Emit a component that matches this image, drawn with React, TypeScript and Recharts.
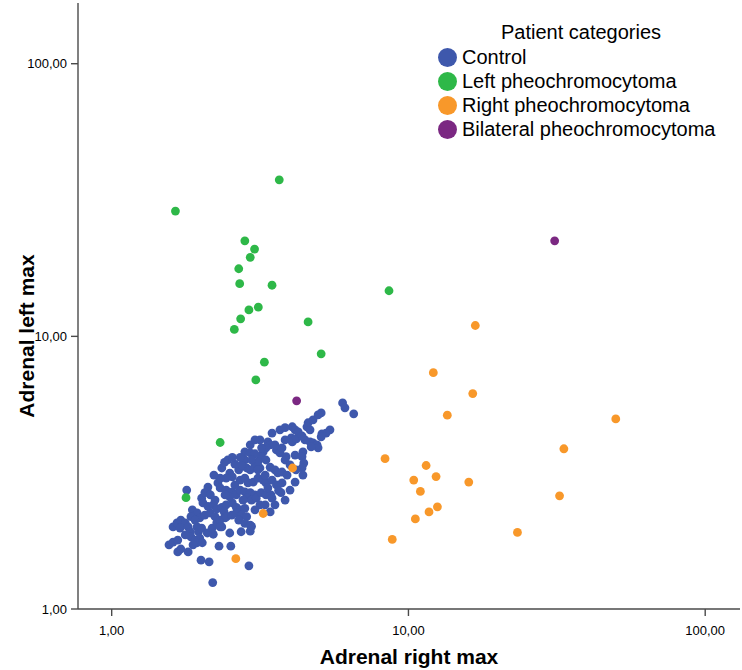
import { ScatterChart, Scatter, XAxis, YAxis, Label } from "recharts";

const categories = ["Control", "Left pheochromocytoma", "Right pheochromocytoma", "Bilateral pheochromocytoma"];
const colors = ["#3E58AC", "#2EB848", "#F8982A", "#7B2882"];
const xTicks = [1, 10, 100];
const yTicks = [1, 10, 100];

// [adrenal right max, adrenal left max]
const control: [number, number][] = [
  [2.19, 1.25], [2.9, 1.44], [2.13, 1.49], [2.0, 1.51], [2.3, 1.7], [2.52, 1.7], [1.56, 1.72], [1.61, 1.76],
  [1.67, 1.62], [1.81, 1.62], [1.71, 1.66], [2.73, 1.92], [2.93, 1.93], [2.96, 2.01], [3.42, 2.27], [2.2, 1.88],
  [1.79, 2.73], [1.61, 2.0], [1.66, 2.07], [1.71, 2.12], [1.77, 2.07], [1.7, 1.98], [1.81, 2.0], [1.84, 1.92],
  [1.94, 2.0], [1.96, 1.92], [2.01, 1.98], [2.1, 1.9], [2.18, 1.98], [2.26, 2.07], [2.35, 2.0], [2.41, 2.16],
  [1.85, 1.84], [1.91, 1.79], [1.98, 1.82], [1.94, 1.75], [2.02, 1.75], [1.88, 1.72],
  [1.87, 2.31], [1.94, 2.25], [1.85, 2.18], [1.98, 2.16], [2.06, 2.21], [2.15, 2.25], [2.23, 2.18], [2.32, 2.12], [2.41, 2.21],
  [2.01, 2.55], [2.03, 2.45], [2.11, 2.38], [2.2, 2.41], [2.26, 2.33], [2.35, 2.36], [2.43, 2.41],
  [2.55, 2.45], [2.63, 2.36], [2.71, 2.31], [2.81, 2.34], [2.63, 2.25], [2.74, 2.21], [2.85, 2.18],
  [2.11, 2.8], [2.1, 2.69], [2.06, 2.67],
  [2.28, 2.9], [2.32, 2.78], [2.43, 2.73], [2.55, 2.69], [2.63, 2.62], [2.5, 2.58], [2.41, 2.62],
  [2.71, 2.73], [2.81, 2.69], [2.93, 2.67], [3.04, 2.62], [2.85, 2.55], [2.77, 2.51], [2.96, 2.51], [3.07, 2.55], [3.19, 2.67], [3.31, 2.62],
  [3.44, 2.62], [3.47, 2.55], [3.72, 2.67],
  [2.5, 3.15], [2.55, 3.05], [2.43, 3.02], [2.32, 3.02],
  [2.71, 2.97], [2.81, 3.02], [2.88, 2.9], [3.0, 2.92], [3.11, 3.02], [3.24, 2.97], [3.31, 2.9],
  [3.47, 2.97], [3.59, 2.85], [3.75, 2.9], [3.65, 2.72],
  [3.04, 3.38], [3.16, 3.29], [3.42, 3.31], [3.55, 3.24], [3.63, 3.16], [3.75, 3.18], [3.9, 3.1],
  [2.81, 3.52], [2.85, 3.29], [2.93, 3.24],
  [3.24, 3.77], [3.19, 3.62], [3.31, 3.52], [3.11, 3.47],
  [2.81, 3.77], [2.93, 3.74], [3.04, 3.71],
  [3.59, 3.83], [3.69, 3.74], [3.75, 3.9], [3.87, 3.62], [3.84, 3.52],
  [4.41, 3.77], [4.38, 3.62], [4.44, 3.43], [4.38, 3.29], [4.41, 3.1],
  [4.66, 4.1], [4.77, 4.07], [4.92, 4.0], [4.96, 3.9], [4.7, 3.93],
  [3.36, 4.1], [3.42, 4.0], [3.31, 3.9],
  [4.03, 4.24], [4.06, 4.1], [4.19, 4.21],
  [5.44, 4.54], [5.28, 4.42], [5.11, 4.39], [5.08, 4.28],
  [4.06, 4.66], [4.15, 4.54], [4.25, 4.46],
  [3.47, 4.42],
  [4.77, 4.94], [4.59, 4.82], [4.55, 4.66],
  [5.08, 5.24], [4.96, 5.15],
  [6.0, 5.7], [6.11, 5.47], [6.54, 5.2],
  [4.48, 4.17], [4.38, 4.31], [3.16, 4.17],
  [2.39, 2.28], [2.44, 2.18], [2.54, 2.21], [2.68, 2.12], [2.81, 2.06], [2.93, 2.03], [2.5, 1.9], [2.32, 2.0],
  [2.6, 2.85], [2.68, 3.24], [2.74, 3.38], [2.96, 3.52], [3.11, 3.24], [3.29, 3.1], [3.36, 2.78], [3.16, 2.41],
  [3.29, 2.41], [3.04, 2.31], [3.55, 2.41], [3.84, 2.51], [3.99, 2.73], [4.15, 2.92], [3.99, 3.38], [4.18, 3.24],
  [4.15, 3.67], [4.66, 4.54], [3.84, 4.17], [3.69, 4.54], [2.46, 3.52], [2.35, 3.29], [2.21, 3.1], [2.15, 2.62],
  [2.23, 2.51], [1.91, 2.12], [1.77, 1.87], [1.67, 1.79],
  [2.93, 4.0], [3.04, 4.17], [3.55, 4.0], [3.84, 4.63], [2.71, 3.6], [2.6, 3.4], [3.2, 3.9], [2.4, 3.45], [2.55, 3.6],
];

const leftPheo: [number, number][] = [
  [3.67, 37.5], [1.64, 28.8], [2.81, 22.4], [3.03, 20.9], [2.93, 19.5], [2.68, 17.7], [2.7, 15.6], [3.47, 15.4],
  [3.12, 12.8], [2.9, 12.5], [2.72, 11.6], [2.59, 10.6], [4.59, 11.3], [5.08, 8.63], [3.27, 8.04], [3.06, 6.92],
  [8.6, 14.7], [2.32, 4.08], [1.78, 2.56],
];

const rightPheo: [number, number][] = [
  [16.8, 10.96], [12.13, 7.36], [16.47, 6.17], [13.52, 5.14], [49.96, 4.98], [33.4, 3.87], [8.34, 3.56],
  [11.47, 3.36], [10.42, 2.97], [12.39, 3.06], [15.97, 2.92], [10.97, 2.7], [32.3, 2.6], [12.52, 2.37],
  [11.73, 2.27], [10.55, 2.14], [23.3, 1.91], [8.82, 1.8], [4.07, 3.29], [3.24, 2.24], [2.62, 1.53],
];

const bilateral: [number, number][] = [
  [4.2, 5.8], [31.1, 22.4],
];

const groups = [control, leftPheo, rightPheo, bilateral];

const FONT = "Arial, 'Liberation Sans', sans-serif";
const FRAME = "#4a4a4a";

const fmt = (v: number) => v.toFixed(2).replace(".", ",");

const makeDot = (color: string) => (p: any) => <circle cx={p.cx} cy={p.cy} r={4.4} fill={color} />;

const YTitle = ({ viewBox }: any) => {
  const cx = viewBox.x + 26;
  const cy = viewBox.y + viewBox.height / 2 + 30;
  return (
    <text x={cx} y={cy} transform={`rotate(-90 ${cx} ${cy})`} textAnchor="middle" dominantBaseline="central"
      fontFamily={FONT} fontWeight="bold" fontSize={21} fill="#000">
      Adrenal left max
    </text>
  );
};

const XTitle = ({ viewBox }: any) => (
  <text x={viewBox.x + viewBox.width / 2} y={viewBox.y + 47} textAnchor="middle" dominantBaseline="central"
    fontFamily={FONT} fontWeight="bold" fontSize={21} fill="#000">
    Adrenal right max
  </text>
);

function ChartLegend() {
  return (
    <div style={{ position: "absolute", left: 437, top: 20, width: 288, fontFamily: FONT, fontSize: 20, color: "#000" }}>
      <div style={{ textAlign: "center", lineHeight: "24px", marginBottom: 1 }}>Patient categories</div>
      {categories.map((c, i) => (
        <div key={c} style={{ display: "flex", alignItems: "center", height: 24 }}>
          <span style={{ display: "inline-block", width: 19, height: 19, borderRadius: 10, background: colors[i], marginLeft: 1, marginRight: 5 }} />
          <span style={{ whiteSpace: "nowrap" }}>{c}</span>
        </div>
      ))}
    </div>
  );
}

export default function App() {
  return (
    <div style={{ position: "absolute", left: 0, top: 0, width: 742, height: 670, background: "#fff" }}>
      <ScatterChart width={742} height={670} margin={{ top: 3, right: 2, left: 0, bottom: 0 }}>
        <XAxis type="number" dataKey="x" scale="log" domain={[0.77, 131]} ticks={xTicks} allowDataOverflow
          height={61} tickFormatter={fmt} tickSize={7} tickMargin={10}
          axisLine={{ stroke: FRAME, strokeWidth: 1.4 }} tickLine={{ stroke: FRAME, strokeWidth: 1.4 }}
          tick={{ fill: "#000", fontSize: 13, fontFamily: FONT }}>
          <Label content={<XTitle />} />
        </XAxis>
        <XAxis xAxisId="top" orientation="top" type="number" scale="log" domain={[0.77, 131]} allowDataOverflow
          height={0} tick={false} tickLine={false} axisLine={{ stroke: FRAME, strokeWidth: 1.4 }} />
        <YAxis type="number" dataKey="y" scale="log" domain={[1, 167]} ticks={yTicks} allowDataOverflow
          width={78} tickFormatter={fmt} tickSize={7} tickMargin={4}
          axisLine={{ stroke: FRAME, strokeWidth: 1.4 }} tickLine={{ stroke: FRAME, strokeWidth: 1.4 }}
          tick={{ fill: "#000", fontSize: 13, fontFamily: FONT }}>
          <Label content={<YTitle />} />
        </YAxis>
        <YAxis yAxisId="right" orientation="right" type="number" scale="log" domain={[1, 167]} allowDataOverflow
          width={0} tick={false} tickLine={false} axisLine={{ stroke: FRAME, strokeWidth: 1.4 }} />
        {groups.map((g, i) => (
          <Scatter key={categories[i]} name={categories[i]} data={g.map(([x, y]) => ({ x, y }))}
            fill={colors[i]} shape={makeDot(colors[i])} isAnimationActive={false} />
        ))}
      </ScatterChart>
      <ChartLegend />
    </div>
  );
}
